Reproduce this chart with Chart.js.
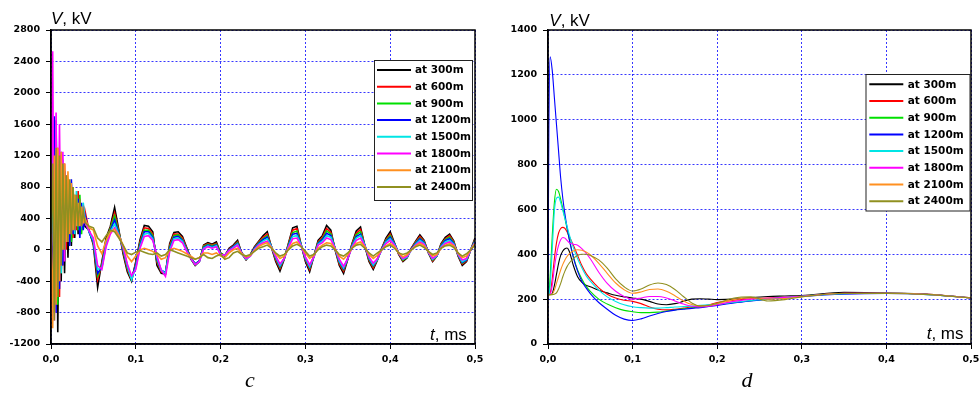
<!DOCTYPE html>
<html>
<head>
<meta charset="utf-8">
<script src="https://cdn.jsdelivr.net/npm/chart.js@4.4.1/dist/chart.umd.min.js"></script>
<style>
  html, body { margin: 0; padding: 0; background: #fff; overflow: hidden; }
  #wrap { position: relative; width: 979px; height: 394px; overflow: hidden; }
  #boxC { position: absolute; left: 0; top: 0; width: 490px; height: 394px; }
  #boxD { position: absolute; left: 490px; top: 0; width: 500px; height: 394px; }
</style>
</head>
<body>
<div id="wrap">
  <div id="boxC"><canvas id="chartC" width="490" height="394"></canvas></div>
  <div id="boxD"><canvas id="chartD" width="500" height="394"></canvas></div>
</div>
<script>
// Voltage at several distances along the line, two cases (c) and (d)
const distances = ['at 300m', 'at 600m', 'at 900m', 'at 1200m', 'at 1500m', 'at 1800m', 'at 2100m', 'at 2400m'];
const seriesColors = ['#000000', '#ff0000', '#00e000', '#0000ff', '#00e5e5', '#ff00ff', '#ff9020', '#909020'];

// ---- panel c : time, ms ----
const timeC = [
  0, 0.002, 0.004, 0.006, 0.008, 0.01, 0.012, 0.014, 0.016, 0.018,
  0.02, 0.022, 0.024, 0.026, 0.028, 0.03, 0.032, 0.034, 0.036, 0.038,
  0.04,
  0.045, 0.05, 0.055, 0.06, 0.065, 0.07, 0.075, 0.08, 0.085, 0.09,
  0.095, 0.1, 0.105, 0.11, 0.115, 0.12, 0.125, 0.13, 0.135, 0.14,
  0.145, 0.15, 0.155, 0.16, 0.165, 0.17, 0.175, 0.18, 0.185, 0.19,
  0.195, 0.2, 0.205, 0.21, 0.215, 0.22, 0.225, 0.23, 0.235, 0.24,
  0.245, 0.25, 0.255, 0.26, 0.265, 0.27, 0.275, 0.28, 0.285, 0.29,
  0.295, 0.3, 0.305, 0.31, 0.315, 0.32, 0.325, 0.33, 0.335, 0.34,
  0.345, 0.35, 0.355, 0.36, 0.365, 0.37, 0.375, 0.38, 0.385, 0.39,
  0.395, 0.4, 0.405, 0.41, 0.415, 0.42, 0.425, 0.43, 0.435, 0.44,
  0.445, 0.45, 0.455, 0.46, 0.465, 0.47, 0.475, 0.48, 0.485, 0.49,
  0.495, 0.5
];

const c300 = [
  200, 1300, -600, 1500, -1050, 1100, -400, 900, -300, 800, -100, 700, 50, 650, 150, 700, 200, 600, 250, 550, 300,
  250, 60, -480, -150, 150, 300, 540, 250, -50, -280,
  -400, -150, 130, 310, 300, 230, -200, -300, -310, 80,
  220, 230, 170, 30, -120, -200, -150, 60, 90, 70,
  100, -40, -80, 20, 60, 120, -50, -130, -60, 40,
  110, 180, 230, 30, -150, -270, -120, 80, 280, 300,
  60, -150, -280, -80, 120, 180, 310, 250, 0, -200,
  -300, -120, 80, 240, 290, 50, -150, -250, -130, 20,
  150, 230, 90, -60, -150, -100, 20, 110, 190, 120,
  -40, -150, -80, 80, 160, 200, 110, -80, -200, -150,
  0, 150
];
const c600 = [
  200, -800, 1400, -500, 1300, -600, 1000, -200, 1100, 0, 900, 100, 800, 150, 700, 250, 750, 200, 550, 300, 500,
  240, 80, -380, -180, 120, 280, 470, 230, -20, -250,
  -380, -170, 100, 280, 270, 200, -160, -280, -290, 60,
  200, 200, 150, 20, -100, -190, -140, 50, 80, 60,
  80, -50, -70, 10, 50, 100, -40, -120, -70, 30,
  100, 160, 200, 40, -130, -240, -110, 70, 250, 270,
  60, -130, -250, -80, 100, 160, 270, 220, 10, -180,
  -270, -110, 70, 210, 260, 60, -130, -230, -120, 20,
  130, 200, 80, -50, -140, -90, 20, 100, 170, 110,
  -30, -140, -80, 70, 140, 180, 100, -70, -180, -140,
  0, 130
];
const c900 = [
  200, 900, -400, 1650, -700, 1200, -300, 1000, -100, 900, 200, 850, 100, 800, 300, 650, 250, 700, 200, 500, 350,
  230, 90, -330, -200, 100, 270, 430, 220, 0, -230,
  -370, -190, 80, 250, 250, 180, -140, -270, -290, 40,
  180, 190, 130, 10, -100, -180, -140, 40, 70, 50,
  70, -50, -70, 0, 40, 90, -40, -110, -70, 20,
  90, 140, 180, 40, -110, -220, -110, 60, 220, 240,
  60, -120, -230, -80, 90, 140, 240, 200, 20, -160,
  -250, -110, 60, 190, 230, 60, -120, -210, -120, 10,
  120, 180, 80, -40, -130, -90, 10, 90, 150, 100,
  -30, -130, -80, 60, 130, 160, 90, -60, -170, -130,
  0, 120
];
const c1200 = [
  200, -500, 1700, -800, 1100, -500, 1250, -200, 1000, 100, 750, 50, 900, 200, 600, 300, 650, 150, 600, 250, 450,
  220, 100, -300, -220, 80, 250, 380, 200, 20, -210,
  -360, -200, 60, 230, 230, 160, -120, -260, -290, 20,
  160, 170, 120, 0, -100, -180, -140, 30, 60, 40,
  60, -60, -70, 0, 40, 80, -40, -110, -70, 20,
  80, 130, 160, 40, -100, -210, -110, 50, 200, 210,
  60, -110, -220, -90, 80, 130, 210, 180, 20, -150,
  -240, -110, 50, 170, 200, 60, -110, -200, -120, 10,
  110, 160, 80, -40, -120, -90, 10, 80, 140, 90,
  -30, -120, -80, 50, 120, 140, 80, -60, -160, -130,
  0, 110
];
const c1500 = [
  200, 1300, -700, 1600, -400, 1050, -300, 1150, 0, 800, 150, 700, 250, 600, 200, 750, 300, 500, 350, 600, 400,
  230, 120, -250, -230, 60, 230, 330, 190, 30, -200,
  -380, -230, 40, 200, 210, 140, -100, -260, -300, 0,
  140, 150, 110, -10, -110, -190, -150, 20, 50, 30,
  50, -60, -70, -10, 30, 70, -50, -120, -80, 10,
  70, 110, 140, 40, -90, -200, -110, 40, 170, 180,
  60, -100, -210, -90, 70, 110, 180, 160, 20, -140,
  -230, -110, 40, 150, 180, 60, -100, -190, -120, 0,
  100, 140, 70, -40, -120, -90, 0, 70, 120, 80,
  -30, -120, -80, 40, 100, 120, 70, -60, -150, -120,
  0, 100
];
const c1800 = [
  200, 2530, -900, 1750, -500, 1600, -200, 1250, -150, 950, 100, 800, 200, 650, 250, 600, 350, 550, 300, 500, 350,
  240, 150, -200, -250, 40, 200, 280, 180, 40, -180,
  -330, -250, 20, 170, 180, 120, -80, -260, -340, -20,
  120, 130, 90, -20, -110, -190, -150, 10, 40, 20,
  40, -60, -70, -10, 20, 60, -50, -110, -80, 0,
  60, 90, 110, 30, -80, -180, -110, 30, 140, 150,
  50, -90, -190, -90, 60, 90, 150, 130, 20, -120,
  -210, -110, 30, 120, 150, 50, -90, -170, -110, 0,
  80, 120, 60, -40, -110, -80, 0, 60, 100, 70,
  -30, -110, -70, 30, 80, 100, 60, -50, -130, -110,
  0, 90
];
const c2100 = [
  200, -1000, 1200, -700, 1300, -400, 1250, 0, 1100, 100, 1000, 200, 850, 250, 700, 300, 600, 300, 550, 350, 400,
  280, 250, 50, -50, 120, 230, 260, 180, 60, -80,
  -150, -80, 0, 20, 0, -20, -60, -120, -100, 0,
  20, 0, -20, -50, -80, -120, -100, -40, -40, -60,
  -40, -80, -100, -40, 0, 20, -50, -90, -70, -10,
  40, 70, 90, 30, -50, -110, -80, 10, 80, 100,
  40, -40, -110, -70, 20, 60, 90, 80, 10, -80,
  -120, -60, 20, 80, 100, 40, -60, -110, -70, 0,
  50, 80, 40, -40, -90, -60, 0, 50, 80, 50,
  -20, -80, -60, 20, 60, 80, 50, -40, -100, -80,
  0, 80
];
const c2400 = [
  200, 1100, -900, 1300, -600, 1200, -200, 1100, 0, 950, 100, 900, 200, 800, 250, 700, 300, 650, 300, 500, 350,
  300, 280, 150, 100, 180, 250, 230, 150, 60, -40,
  -60, -30, -10, -30, -50, -60, -40, -80, -60, 0,
  -20, -40, -60, -80, -100, -120, -100, -60, -100, -110,
  -80, -60, -120, -100, -40, -20, -60, -80, -60, -20,
  20, 40, 60, 20, -40, -80, -60, 0, 50, 70,
  40, -20, -80, -60, 0, 40, 60, 50, 0, -60,
  -80, -40, 20, 60, 70, 20, -40, -80, -40, 0,
  40, 60, 20, -40, -60, -40, 0, 40, 60, 30,
  -20, -60, -40, 20, 50, 60, 30, -40, -80, -50,
  0, 60
];

// ---- panel d : time, ms ----
const timeD = [
  0, 0.001, 0.0025, 0.005, 0.0075, 0.01, 0.0125, 0.015, 0.0175, 0.02,
  0.0225, 0.025, 0.03, 0.035, 0.04, 0.045, 0.05, 0.06, 0.07, 0.08,
  0.09, 0.1, 0.11, 0.12, 0.13, 0.14, 0.15, 0.16, 0.17, 0.18,
  0.19, 0.2, 0.22, 0.24, 0.26, 0.28, 0.3, 0.35, 0.4, 0.45,
  0.5
];
const d300 = [
  220, 220, 220, 225, 260, 310, 360, 395, 415, 425,
  428, 415, 350, 300, 275, 262, 255, 240, 228, 217,
  210, 205, 200, 190, 178, 175, 180, 190, 200, 202,
  200, 198, 200, 207, 212, 214, 216, 230, 228, 222,
  205
];
const d600 = [
  220, 220, 225, 290, 380, 450, 495, 515, 520, 515,
  500, 480, 440, 395, 350, 315, 290, 250, 222, 205,
  195, 190, 180, 165, 155, 152, 155, 160, 165, 168,
  175, 185, 195, 202, 205, 208, 213, 225, 226, 222,
  206
];
const d900 = [
  220, 222, 300, 480, 630, 690, 680, 645, 605, 560,
  515, 470, 390, 330, 290, 258, 235, 200, 178, 162,
  150, 144, 140, 140, 142, 147, 152, 157, 161, 165,
  170, 175, 185, 193, 200, 207, 213, 225, 226, 221,
  205
];
const d1200 = [
  220, 950, 1280, 1220, 1100, 980, 860, 740, 650, 580,
  520, 470, 385, 325, 280, 250, 225, 185, 155, 128,
  111, 105, 112, 125, 136, 145, 151, 155, 159, 162,
  167, 172, 183, 192, 200, 206, 212, 222, 225, 220,
  205
];
const d1500 = [
  220, 221, 260, 420, 590, 650, 655, 630, 595, 560,
  525, 490, 430, 380, 340, 305, 280, 240, 210, 190,
  175, 166, 162, 160, 160, 162, 165, 167, 169, 172,
  175, 178, 186, 194, 201, 207, 213, 224, 226, 220,
  206
];
const d1800 = [
  220, 220, 222, 260, 340, 400, 440, 465, 475, 472,
  462, 452, 445, 440, 425, 405, 380, 320, 270, 235,
  212, 200, 205, 212, 212, 205, 192, 178, 168, 165,
  168, 175, 190, 200, 204, 208, 213, 226, 226, 221,
  205
];
const d2100 = [
  220, 220, 220, 222, 240, 270, 300, 330, 355, 375,
  390, 402, 415, 420, 418, 410, 398, 360, 315, 272,
  242, 226, 232, 243, 245, 235, 215, 192, 176, 170,
  172, 180, 198, 206, 200, 203, 211, 226, 226, 221,
  205
];
const d2400 = [
  220, 220, 220, 220, 222, 228, 245, 270, 300, 325,
  345, 360, 382, 395, 400, 400, 395, 375, 338, 290,
  255, 236, 245, 263, 272, 265, 243, 212, 183, 170,
  172, 182, 205, 210, 192, 198, 210, 225, 225, 220,
  205
];

const tickFont = { family: 'DejaVu Sans', weight: 'bold', size: 9.5 };
const gridBlue = 'rgba(20,20,255,0.85)';

function makeSets(times, series, width, smooth) {
  return series.map((vals, i) => ({
    label: distances[i],
    data: times.map((t, k) => ({ x: t, y: vals[k] })),
    borderColor: seriesColors[i],
    backgroundColor: seriesColors[i],
    borderWidth: width,
    pointRadius: 0,
    tension: smooth ? 0.4 : 0,
    cubicInterpolationMode: smooth ? 'monotone' : 'default',
    order: series.length - 1 - i
  }));
}

function xScale() {
  return {
    type: 'linear', min: 0, max: 0.5,
    afterFit: s => { s.height = 50; },
    ticks: { stepSize: 0.1, color: '#000', font: tickFont, padding: 5, maxRotation: 0,
             callback: v => v.toFixed(1).replace('.', ',') },
    grid: { color: gridBlue, lineWidth: 1, tickLength: 5, tickColor: '#000', tickWidth: 1 },
    border: { color: '#000', width: 1.5, dash: [2, 2] }
  };
}

function yScale(min, max, step, w) {
  return {
    type: 'linear', min: min, max: max,
    afterFit: s => { s.width = w; },
    ticks: { stepSize: step, color: '#000', font: tickFont, padding: 6, callback: v => String(v) },
    grid: { color: gridBlue, lineWidth: 1, tickLength: 5, tickColor: '#000', tickWidth: 1 },
    border: { color: '#000', width: 1.5, dash: [2, 2] }
  };
}

function drawMixed(ctx, ital, rest, x, y) {
  ctx.font = 'italic 17px "Liberation Sans", Arial, sans-serif';
  ctx.fillText(ital, x, y);
  const w = ctx.measureText(ital).width;
  ctx.font = '17px "Liberation Sans", Arial, sans-serif';
  ctx.fillText(rest, x + w, y);
}

// frame, axis names, panel letter and boxed legend
const decor = {
  id: 'decor',
  afterDraw(chart, args, o) {
    const ctx = chart.ctx;
    const a = chart.chartArea;
    ctx.save();
    ctx.strokeStyle = '#000';
    ctx.lineWidth = 1.5;
    ctx.strokeRect(a.left, a.top, a.right - a.left, a.bottom - a.top);

    ctx.fillStyle = '#000';
    ctx.textAlign = 'left';
    ctx.textBaseline = 'alphabetic';
    drawMixed(ctx, 'V', ', kV', o.vx, o.vy);
    drawMixed(ctx, 't', ', ms', o.tx, o.ty);
    ctx.font = 'italic 22px "Liberation Serif", "DejaVu Serif", serif';
    ctx.textAlign = 'center';
    ctx.fillText(o.letter, o.lx, o.ly);

    const L = o.legend;
    ctx.fillStyle = '#fff';
    ctx.fillRect(L.x, L.y, L.w, L.h);
    ctx.lineWidth = 1;
    ctx.strokeStyle = '#222';
    ctx.strokeRect(L.x, L.y, L.w, L.h);
    ctx.textAlign = 'left';
    ctx.textBaseline = 'middle';
    ctx.font = 'bold 10.5px "DejaVu Sans", sans-serif';
    chart.data.datasets.forEach((ds, i) => {
      const y = L.row0 + i * L.dy;
      ctx.strokeStyle = ds.borderColor;
      ctx.lineWidth = 2;
      ctx.beginPath();
      ctx.moveTo(L.s0, y);
      ctx.lineTo(L.s1, y);
      ctx.stroke();
      ctx.fillStyle = '#000';
      ctx.fillText(ds.label, L.tx, y + 0.5);
    });
    ctx.restore();
  }
};

function buildChart(id, sets, yOpts, pad, deco) {
  return new Chart(document.getElementById(id), {
    type: 'line',
    data: { datasets: sets },
    options: {
      responsive: false,
      animation: false,
      parsing: false,
      normalized: true,
      layout: { padding: pad },
      plugins: { legend: { display: false }, tooltip: { enabled: false }, decor: deco },
      scales: { x: xScale(), y: yOpts }
    },
    plugins: [decor]
  });
}

buildChart('chartC',
  makeSets(timeC, [c300, c600, c900, c1200, c1500, c1800, c2100, c2400], 1.6, false),
  yScale(-1200, 2800, 400, 51),
  { left: 0, right: 15, top: 30, bottom: 0 },
  { vx: 51, vy: 24, tx: 430, ty: 340, letter: 'c', lx: 250, ly: 387,
    legend: { x: 374.5, y: 60.5, w: 98, h: 140, s0: 377, s1: 411, tx: 415, row0: 70, dy: 16.7 } });

buildChart('chartD',
  makeSets(timeD, [d300, d600, d900, d1200, d1500, d1800, d2100, d2400], 1.1, true),
  yScale(0, 1400, 200, 58),
  { left: 0, right: 19, top: 30, bottom: 0 },
  { vx: 59.3, vy: 26, tx: 436.7, ty: 339, letter: 'd', lx: 257, ly: 387,
    legend: { x: 376, y: 74.5, w: 104, h: 136.5, s0: 379.3, s1: 413.3, tx: 417.7, row0: 84.3, dy: 16.7 } });
</script>
</body>
</html>
